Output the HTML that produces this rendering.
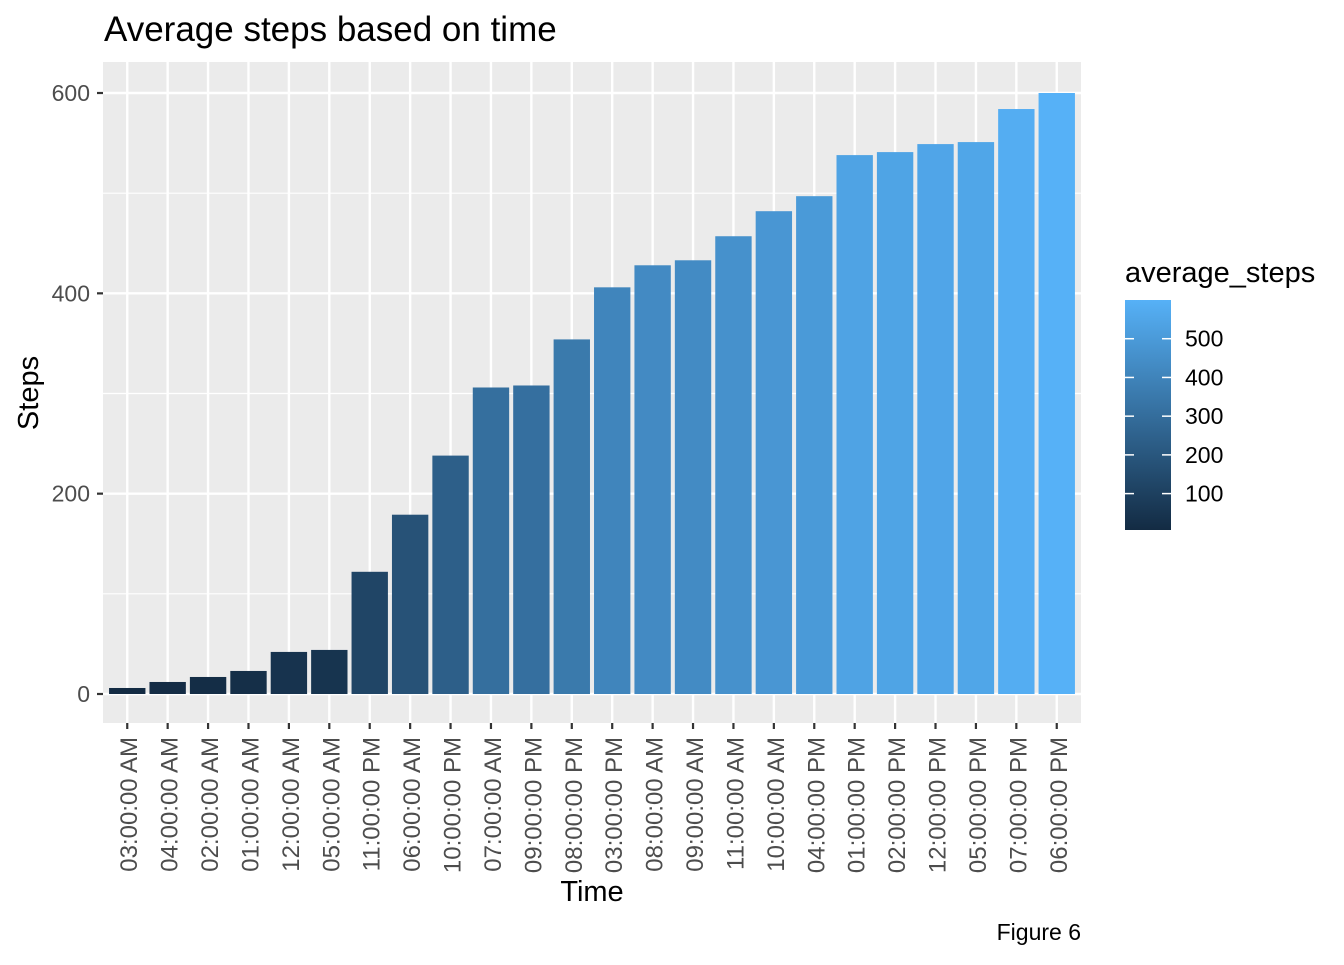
<!DOCTYPE html>
<html><head><meta charset="utf-8"><style>
body{margin:0;background:#fff;font-family:"Liberation Sans",sans-serif;}
</style></head><body>
<svg id="chart" width="1344" height="960" xmlns="http://www.w3.org/2000/svg" font-family="Liberation Sans, sans-serif">
<text x="104" y="41" font-size="35" fill="#000">Average steps based on time</text>
<rect x="103" y="62" width="978" height="661" fill="#EBEBEB"/>
<g id="grid"></g><g id="bars"></g><g id="axes"></g>
<text x="592" y="901" font-size="29" text-anchor="middle">Time</text>
<text transform="translate(38,393) rotate(-90)" font-size="29" text-anchor="middle">Steps</text>
<text x="1081" y="940" font-size="23" text-anchor="end">Figure 6</text>
<text x="1125" y="282" font-size="29">average_steps</text>
<defs><linearGradient id="lg" x1="0" y1="1" x2="0" y2="0"><stop offset="0" stop-color="#132B43"/><stop offset="1" stop-color="#56B1F7"/></linearGradient></defs>
<rect x="1125" y="300" width="46" height="230" fill="url(#lg)"/>
<g id="legend"></g>
</svg>
<script>
const categories=["03:00:00 AM","04:00:00 AM","02:00:00 AM","01:00:00 AM","12:00:00 AM","05:00:00 AM","11:00:00 PM","06:00:00 AM","10:00:00 PM","07:00:00 AM","09:00:00 PM","08:00:00 PM","03:00:00 PM","08:00:00 AM","09:00:00 AM","11:00:00 AM","10:00:00 AM","04:00:00 PM","01:00:00 PM","02:00:00 PM","12:00:00 PM","05:00:00 PM","07:00:00 PM","06:00:00 PM"];
const values=[6,12,17,23,42,44,122,179,238,306,308,354,406,428,433,457,482,497,538,541,549,551,584,600];
const yTicks=[0,200,400,600];
const yMinor=[100,300,500];
const legendTicks=[100,200,300,400,500];
const NS="http://www.w3.org/2000/svg";
function mk(t,a,p){const e=document.createElementNS(NS,t);for(const k in a)e.setAttribute(k,a[k]);p.appendChild(e);return e;}
const px0=103,pw=978,n=categories.length,step=pw/(n+0.2);
const x=i=>px0+(i+0.6)*step;
const y=v=>694-v*(601/600);
const vmin=Math.min(...values),vmax=Math.max(...values);
function col(v){const t=(v-vmin)/(vmax-vmin);const a=[0x13,0x2B,0x43],b=[0x56,0xB1,0xF7];return "rgb("+a.map((c,i)=>Math.round(c+(b[i]-c)*t)).join(",")+")";}
const g=document.getElementById('grid'),bg=document.getElementById('bars'),ax=document.getElementById('axes'),lg=document.getElementById('legend');
yMinor.forEach(v=>{const l=mk('line',{x1:103,x2:1081,y1:y(v),y2:y(v),stroke:'#fff','stroke-width':1.2},g);

});
yTicks.forEach(v=>{const l=mk('line',{x1:103,x2:1081,y1:y(v),y2:y(v),stroke:'#fff','stroke-width':2.4},g);


const tk=mk('line',{x1:97,x2:103,y1:y(v),y2:y(v),stroke:'#333','stroke-width':2.2},ax);


const t=mk('text',{x:90,y:y(v)+8,'font-size':23,'text-anchor':'end',fill:'#4D4D4D'},ax);t.textContent=v;

});
categories.forEach((c,i)=>{const l=mk('line',{x1:x(i),x2:x(i),y1:62,y2:723,stroke:'#fff','stroke-width':2.4},g);


const bw=step*0.9;const r=mk('rect',{x:x(i)-bw/2,y:y(values[i]),width:bw,height:y(0)-y(values[i]),fill:col(values[i])},bg);


const tk=mk('line',{x1:x(i),x2:x(i),y1:723,y2:729,stroke:'#333','stroke-width':2.2},ax);


const t=mk('text',{transform:`translate(${x(i)+10},737) rotate(-90)`,'font-size':24,'text-anchor':'end',fill:'#4D4D4D'},ax);t.textContent=c;

});
const ly=v=>530-(v-vmin)/(vmax-vmin)*230;
legendTicks.forEach(v=>{[1125,1162].forEach(xx=>{const l=mk('line',{x1:xx,x2:xx+9,y1:ly(v),y2:ly(v),stroke:'#fff','stroke-width':1.5},lg);

});
const t=mk('text',{x:1185,y:ly(v)+8,'font-size':23,fill:'#000'},lg);t.textContent=v;

});
</script>
</body></html>
